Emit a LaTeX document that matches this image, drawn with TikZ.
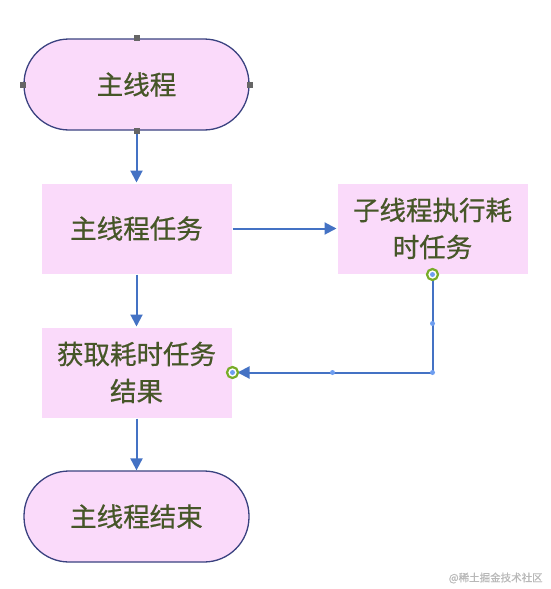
\documentclass[tikz,border=0pt]{standalone}
\usepackage{fontspec}
\setmainfont[FakeBold=0.7]{Noto Sans CJK SC}
\usetikzlibrary{arrows.meta,calc}

\definecolor{boxpink}{RGB}{250,218,250}
\definecolor{edgeblue}{RGB}{68,114,196}
\definecolor{linedark}{RGB}{58,66,128}
\definecolor{textolive}{RGB}{70,86,40}
\definecolor{dotblue}{RGB}{110,158,240}
\definecolor{ringgreen}{RGB}{120,172,40}

\tikzstyle{term} = [rectangle, rounded corners=45pt, minimum width=225pt, minimum height=91pt, fill=boxpink, draw=linedark, line width=1.3pt, text=textolive, align=center, font=\fontsize{26.5}{37}\selectfont]
\tikzstyle{task} = [rectangle, minimum width=190pt, minimum height=90pt, fill=boxpink, text=textolive, align=center, font=\fontsize{26.5}{37}\selectfont]
\tikzstyle{handle} = [rectangle, fill=black!60, minimum size=6pt, inner sep=0pt]
\tikzstyle{waypt} = [circle, fill=dotblue, minimum size=5pt, inner sep=0pt]
\tikzstyle{ring} = [circle, draw=ringgreen, line width=2.2pt, fill=white, minimum size=11pt, inner sep=0pt]

\begin{document}
\begin{tikzpicture}[-{Triangle[length=12pt,width=12pt]},auto,node distance=144pt,line width=2pt,draw=edgeblue]
\useasboundingbox (0,0) rectangle (551pt,-589pt);

\node[term] (Main) at (136.5pt,-84.5pt) {主线程};
\node[task] (MainTask) [below of=Main] {主线程任务};
\node[task] (SubTask) [right of=MainTask, xshift=152pt] {子线程执行耗\\时任务};
\node[task] (Result) [below of=MainTask] {获取耗时任务\\结果};
\node[term] (End) [below of=Result] {主线程结束};

\path[draw=edgeblue]
  (Main) edge (MainTask)
  (MainTask) edge (SubTask)
  (MainTask) edge (Result)
  (Result) edge (End)
  ;

% callback from the worker thread
\coordinate (Corner) at (SubTask.south |- Result.east);
\draw[edgeblue, shorten >=5pt] (SubTask.south) -- (Corner) -- (Result.east);
\node[waypt] at ($(SubTask.south)!0.5!(Corner)$) {};
\node[waypt] at (Corner) {};
\node[waypt] at ($(Corner)!0.5!(Result.east)$) {};
\node[ring] at (SubTask.south) {};
\node[waypt] at (SubTask.south) {};
\node[ring] at (Result.east) {};
\node[waypt] at (Result.east) {};

\foreach \a in {north,south,east,west}
  \node[handle] at (Main.\a) {};

\node [anchor=east, text=black!28, font=\fontsize{10.5}{12}\selectfont] at (547pt,-578pt) {@稀土掘金技术社区};
\end{tikzpicture}
\end{document}
